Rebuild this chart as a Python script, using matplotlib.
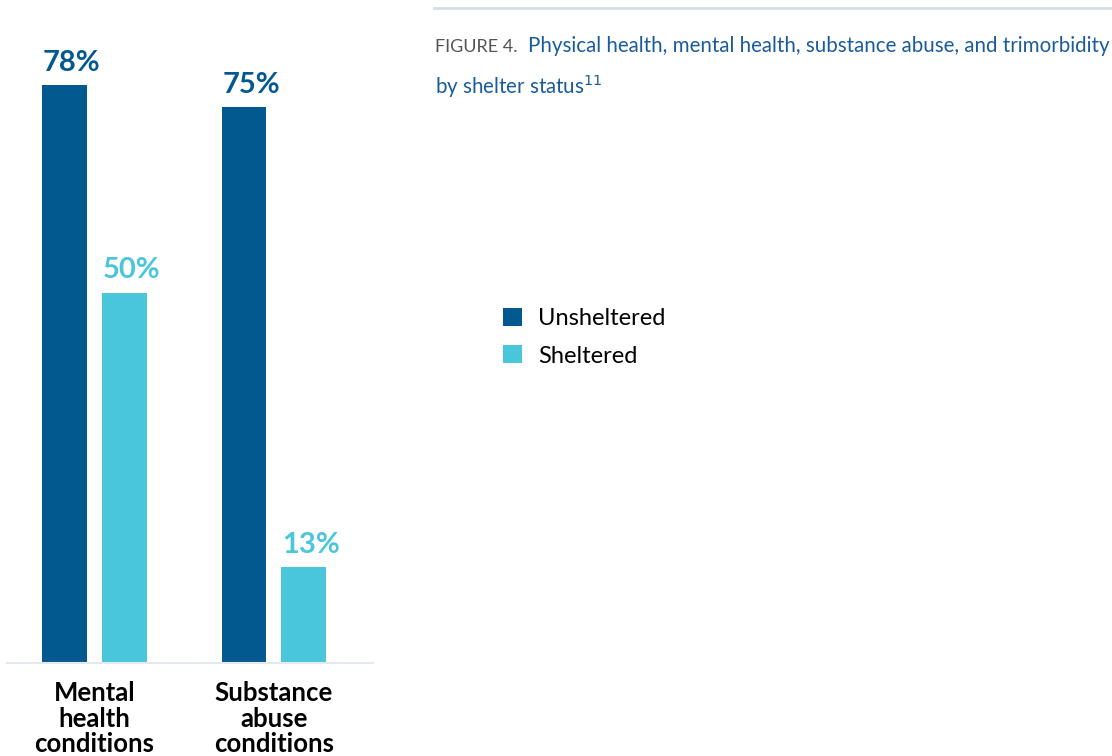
import matplotlib
matplotlib.use("Agg")
import matplotlib.pyplot as plt
import numpy as np

categories = ["Mental\nhealth\nconditions", "Substance\nabuse\nconditions"]
series_names = ["Unsheltered", "Sheltered"]
unsheltered = [78, 75]
sheltered = [50, 13]
value_labels_unsh = ["78%", "75%"]
value_labels_sh = ["50%", "13%"]

dark = "#02598F"
light = "#4AC6DB"

W, H = 1112, 756
fig = plt.figure(figsize=(W / 100, H / 100), dpi=100)
ax = fig.add_axes([7 / W, (H - 663) / H, (373 - 7) / W, 663 / H])

x = np.arange(len(categories))
bw = 0.25
off = 0.167
b1 = ax.bar(x - off, unsheltered, bw, color=dark, label=series_names[0])
b2 = ax.bar(x + off, sheltered, bw, color=light, label=series_names[1])

for bars, labs, col in [(b1, value_labels_unsh, dark), (b2, value_labels_sh, light)]:
    for r, t in zip(bars, labs):
        ax.annotate(t, (r.get_x(), r.get_height()),
                    xytext=(0.5, 6.5), textcoords="offset points", ha="left", va="bottom",
                    fontsize=21, fontweight="bold", color=col, family="Lato")

ax.set_xlim(-0.487, 1.552)
ax.set_ylim(0, 663 / 7.41)
for s in ["top", "right", "left"]:
    ax.spines[s].set_visible(False)
ax.spines["bottom"].set_color("#E6E9EC")
ax.spines["bottom"].set_linewidth(1.5)
ax.set_yticks([])
ax.set_xticks(x)
ax.set_xticklabels(categories, fontsize=18.5, fontweight="bold", family="Lato",
                   linespacing=1.08)
ax.tick_params(axis="x", length=0, pad=13)

# title rule
fig.add_artist(plt.Line2D([434 / W, 1], [1 - 8 / H, 1 - 8 / H], color="#D5DEE6", lw=2))
fig.text(435 / W, 1 - 47 / H, "FIGURE 4.", color="#555555", fontsize=13,
         family="Lato", va="center", ha="left")
fig.text(528 / W, 1 - 46 / H, "Physical health, mental health, substance abuse, and trimorbidity",
         color="#1A5C9A", fontsize=14.8, family="Lato", va="center", ha="left")
fig.text(435 / W, 1 - 86 / H, "by shelter status$^{11}$",
         color="#1A5C9A", fontsize=14.8, family="Lato", va="center", ha="left")

fig.legend(handles=[b1, b2], labels=series_names, loc="upper left",
           bbox_to_anchor=(503 / W, 1 - 308 / H), frameon=False, borderpad=0,
           borderaxespad=0,
           prop={"family": "Lato", "size": 17}, handlelength=0.8, handleheight=0.8,
           handletextpad=0.68, labelspacing=0.68)

fig.savefig("out.png", dpi=100)
